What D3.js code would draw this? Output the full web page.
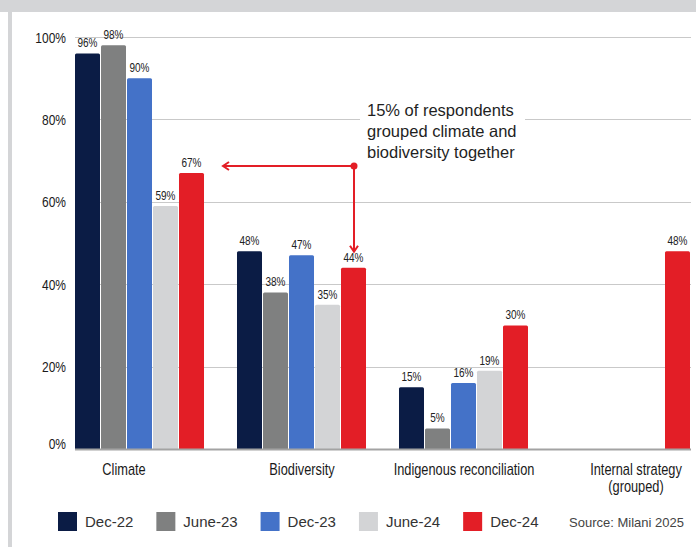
<!DOCTYPE html>
<html>
<head>
<meta charset="utf-8">
<script src="https://cdn.jsdelivr.net/npm/d3@7/dist/d3.min.js"></script>
<style>
  html, body { margin: 0; padding: 0; background: #fff; }
  svg { display: block; }
  text { font-family: "Liberation Sans", Arial, sans-serif; }
</style>
</head>
<body>
<svg id="chart" width="696" height="547"></svg>
<script>
// Survey topics and the five survey waves
const categories = ["Climate", "Biodiversity", "Indigenous reconciliation", "Internal strategy\n(grouped)"];
const seriesNames = ["Dec-22", "June-23", "Dec-23", "June-24", "Dec-24"];
const seriesColors = ["#0b1c45", "#7f8080", "#4472c8", "#d3d4d6", "#e31e26"];

// Share of respondents (%) per wave, one array per topic; null = not asked
const climate = [96, 98, 90, 59, 67];
const biodiversity = [48, 38, 47, 35, 44];
const indigenous = [15, 5, 16, 19, 30];
const internalStrategy = [null, null, null, null, 48];

const yTicks = [0, 20, 40, 60, 80, 100];
const noteLines = ["15% of respondents", "grouped climate and", "biodiversity together"];
const sourceText = "Source: Milani 2025";

const values = [climate, biodiversity, indigenous, internalStrategy];

(function draw() {
  const svg = d3.select("#chart");
  const W = 696, H = 547;
  const frame = "#d4d5d7";
  const squeeze = 0.8; // horizontal compression for the condensed-style labels

  // condensed-looking text: anchored group, squeezed horizontally
  function narrowText(parent, x, y, str, size, anchor) {
    const g = parent.append("g").attr("transform", `translate(${x},${y}) scale(${squeeze},1)`);
    return g.append("text").attr("font-size", size).attr("fill", "#1a1a1a")
      .attr("text-anchor", anchor || "middle").text(str);
  }

  // page frame: top band and left rule
  svg.append("rect").attr("x", 0).attr("y", 0).attr("width", W).attr("height", 12).attr("fill", frame);
  svg.append("rect").attr("x", 8).attr("y", 12).attr("width", 4).attr("height", H - 12).attr("fill", frame);

  const plotL = 75, plotR = 691, plotT = 37, plotB = 449;

  const x0 = d3.scaleBand().domain(categories).range([plotL, plotR]).paddingInner(0.1975).paddingOuter(0);
  const x1 = d3.scaleBand().domain(seriesNames).range([0, x0.bandwidth()]).padding(0);
  const y = d3.scaleLinear().domain([0, 100]).range([plotB, plotT]);

  // gridlines
  svg.append("g").selectAll("line").data(yTicks.filter(t => t > 0)).join("line")
    .attr("x1", plotL).attr("x2", plotR)
    .attr("y1", d => Math.round(y(d)) + 0.5).attr("y2", d => Math.round(y(d)) + 0.5)
    .attr("stroke", "#c9c9c9").attr("stroke-width", 1);

  // white box behind the note, breaking the gridline
  svg.append("rect").attr("x", 360).attr("y", 96).attr("width", 165).attr("height", 66).attr("fill", "#fff");

  // y axis labels, placed from the axis tick positions
  const yAxis = d3.axisLeft(y).tickValues(yTicks).tickFormat(d => d + "%").tickSize(0).tickPadding(0);
  const ya = svg.append("g").attr("transform", "translate(66,0)").call(yAxis);
  ya.select(".domain").remove();
  ya.selectAll(".tick").each(function(d) {
    const tk = d3.select(this);
    tk.select("text").remove();
    const t = narrowText(tk, 0, d === 0 ? -1 : 5, d + "%", 15, "end");
  });

  // bars
  const groups = svg.append("g").selectAll("g").data(categories).join("g")
    .attr("transform", d => `translate(${x0(d)},0)`);

  groups.each(function(cat, ci) {
    const g = d3.select(this);
    const rows = seriesNames.map((s, si) => ({ s, si, v: values[ci][si] })).filter(r => r.v != null);
    g.selectAll("path.bar").data(rows).join("path")
      .attr("class", "bar")
      .attr("fill", r => seriesColors[r.si])
      .attr("d", r => {
        const bx = x1(r.s), bw = x1.bandwidth() - 1, by = y(r.v), rr = 1.5;
        return `M${bx},${plotB}V${by + rr}Q${bx},${by} ${bx + rr},${by}H${bx + bw - rr}Q${bx + bw},${by} ${bx + bw},${by + rr}V${plotB}Z`;
      });
    rows.forEach(r => {
      narrowText(g, x1(r.s) + (x1.bandwidth() - 1) / 2, y(r.v) - 6, r.v + "%", 12.5, "middle").attr("fill", "#222");
    });
  });

  // baseline
  svg.append("line").attr("x1", plotL).attr("x2", plotR).attr("y1", plotB + 0.5).attr("y2", plotB + 0.5)
    .attr("stroke", "#a3a3a3").attr("stroke-width", 2);

  // category labels
  const labelShift = [-16, 0, 0, 10];
  categories.forEach((c, i) => {
    const cx = x0(c) + x0.bandwidth() / 2 + labelShift[i];
    c.split("\n").forEach((line, li) => {
      narrowText(svg, cx, 475 + li * 16.5, line, 16, "middle");
    });
  });

  // annotation: arrows from the note to the Climate and Biodiversity Dec-24 bars
  const red = "#e31e26";
  const dotX = 354, aY = 166;
  const arrowLeft = x0("Climate") + x1("Dec-24") + x1.bandwidth() + 18;
  const downY = y(44) - 16;
  const ann = svg.append("g").attr("stroke", red).attr("stroke-width", 2).attr("fill", "none");
  ann.append("line").attr("x1", dotX).attr("y1", aY).attr("x2", arrowLeft).attr("y2", aY);
  ann.append("path").attr("d", `M${arrowLeft + 6},${aY - 4}L${arrowLeft},${aY}L${arrowLeft + 6},${aY + 4}`);
  ann.append("line").attr("x1", dotX).attr("y1", aY).attr("x2", dotX).attr("y2", downY);
  ann.append("path").attr("d", `M${dotX - 4},${downY - 6}L${dotX},${downY}L${dotX + 4},${downY - 6}`);
  svg.append("circle").attr("cx", dotX).attr("cy", aY).attr("r", 3.5).attr("fill", red);

  const note = svg.append("text").attr("font-size", 16.5).attr("fill", "#1f1f1f");
  noteLines.forEach((l, i) => note.append("tspan").attr("x", 367).attr("y", 116 + i * 21).text(l));

  // legend
  let lx = 58;
  seriesNames.forEach((s, i) => {
    svg.append("rect").attr("x", lx).attr("y", 512).attr("width", 19).attr("height", 19).attr("fill", seriesColors[i]);
    const t = svg.append("text").attr("font-size", 15).attr("fill", "#333")
      .attr("x", lx + 27).attr("y", 527).text(s);
    lx += 27 + t.node().getComputedTextLength() + 23;
  });

  svg.append("text").attr("font-size", 13).attr("fill", "#444")
    .attr("x", 684).attr("y", 527).attr("text-anchor", "end").text(sourceText);
})();
</script>
</body>
</html>
